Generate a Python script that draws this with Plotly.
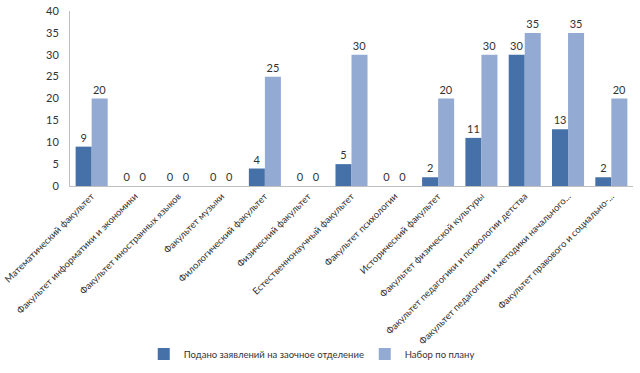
import plotly.graph_objects as go

categories = [
    "Математический факультет",
    "Факультет информатики и экономики",
    "Факультет иностранных языков",
    "Факультет музыки",
    "Филологический факультет",
    "Физический факультет",
    "Естественнонаучный факультет",
    "Факультет психологии",
    "Исторический факультет",
    "Факультет физической культуры",
    "Факультет педагогики и психологии детства",
    "Факультет педагогики и методики начального...",
    "Факультет правового и социально-...",
]
applied = [9, 0, 0, 0, 4, 0, 5, 0, 2, 11, 30, 13, 2]
plan = [20, 0, 0, 0, 25, 0, 30, 0, 20, 30, 35, 35, 20]
yticks = [0, 5, 10, 15, 20, 25, 30, 35, 40]

font = "Lato, 'Open Sans', sans-serif"

fig = go.Figure()
fig.add_trace(go.Bar(
    x=categories, y=applied, name="Подано заявлений на заочное отделение",
    marker=dict(color="#4571A8", line=dict(width=0)),
    text=applied, textposition="outside", cliponaxis=False,
    textfont=dict(size=11, color="#333333", family=font),
))
fig.add_trace(go.Bar(
    x=categories, y=plan, name="Набор по плану",
    marker=dict(color="#93AAD2", line=dict(width=0)),
    text=plan, textposition="outside", cliponaxis=False,
    textfont=dict(size=11, color="#333333", family=font),
))

fig.update_layout(
    width=640, height=373,
    margin=dict(l=70, r=7, t=11, b=187, autoexpand=False),
    paper_bgcolor="white", plot_bgcolor="white",
    barmode="group", bargap=0.26, bargroupgap=0,
    font=dict(family=font, size=10, color="#333333"),
    showlegend=True,
    legend=dict(orientation="h", x=0.131, xanchor="left", y=-0.96, yanchor="middle",
                bgcolor="rgba(0,0,0,0)",
                font=dict(size=9.5, color="#333333"), itemwidth=30,
                entrywidth=176, entrywidthmode="pixels"),
)
fig.update_xaxes(
    tickangle=-45, showline=True, linecolor="#BFBFBF", linewidth=1,
    ticks="", showgrid=False, tickfont=dict(size=9.5, color="#333333"),
    automargin=False,
)
fig.update_yaxes(
    range=[0, 40], tickvals=yticks, showline=True, linecolor="#BFBFBF", linewidth=1,
    ticks="", showgrid=False, zeroline=False, tickfont=dict(size=11, color="#333333"),
    ticklabelstandoff=8, automargin=False,
)

fig.write_html(
    "out.html",
    config={"displayModeBar": False},
    post_script="document.body.style.margin='0';document.body.style.overflow='hidden';",
)
